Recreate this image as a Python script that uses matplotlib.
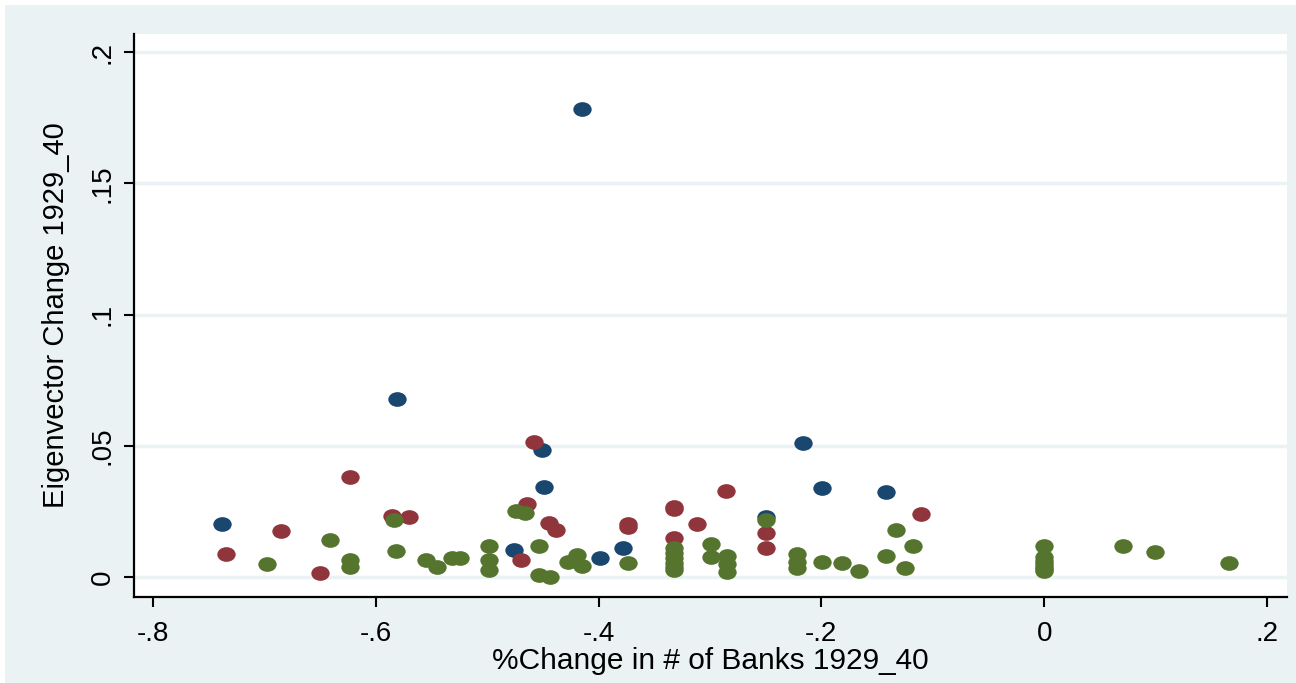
import matplotlib
matplotlib.use("Agg")
import matplotlib.pyplot as plt
from matplotlib.path import Path
from matplotlib.patches import Rectangle
import numpy as np

plt.rcParams['font.family'] = ['Liberation Sans', 'DejaVu Sans']

# ---- data ----
blue_x = [-0.738, -0.5805, -0.4146, -0.4505, -0.4487, -0.4763, -0.3984, -0.3783,
          -0.2496, -0.2163, -0.1992, -0.1423]
blue_y = [0.0202, 0.0678, 0.1785, 0.0484, 0.0344, 0.0103, 0.0074, 0.0111,
          0.0230, 0.0512, 0.0338, 0.0325]

red_x = [-0.734, -0.685, -0.650, -0.623, -0.585, -0.570, -0.4697, -0.4643, -0.4580,
         -0.4442, -0.4379, -0.3738, -0.3738, -0.3325, -0.3325, -0.3325, -0.3115,
         -0.2852, -0.2496, -0.2496, -0.1109]
red_y = [0.0088, 0.0175, 0.0014, 0.0383, 0.0233, 0.0230, 0.0065, 0.0279, 0.0513,
         0.0205, 0.0179, 0.0201, 0.0190, 0.0268, 0.0258, 0.0148, 0.0202,
         0.0328, 0.0167, 0.0109, 0.0239]

green_x = [-0.6979, -0.641, -0.623, -0.623, -0.584, -0.5817, -0.5547, -0.5446,
           -0.5317, -0.5242, -0.4987, -0.4987, -0.4987, -0.4739, -0.4658, -0.4535,
           -0.4538, -0.4433, -0.4277, -0.4193, -0.4148, -0.3738,
           -0.3325, -0.3325, -0.3325, -0.3325, -0.3325, -0.3325,
           -0.2989, -0.2989, -0.2845, -0.2845, -0.2845, -0.2496,
           -0.2217, -0.2217, -0.2217, -0.1992, -0.1818, -0.1663,
           -0.1423, -0.1330, -0.1250, -0.1178,
           0.0, 0.0, 0.0, 0.0, 0.0, 0.0, 0.0,
           0.0712, 0.0994, 0.1661]
green_y = [0.0048, 0.0141, 0.0065, 0.0039, 0.0217, 0.0100, 0.0065, 0.0039,
           0.0074, 0.0074, 0.0118, 0.0065, 0.0027, 0.0253, 0.0243, 0.0119,
           0.0008, 0.0000, 0.0058, 0.0084, 0.0042, 0.0055,
           0.0110, 0.0090, 0.0072, 0.0055, 0.0040, 0.0027,
           0.0126, 0.0075, 0.0080, 0.0048, 0.0018, 0.0217,
           0.0088, 0.0058, 0.0033, 0.0058, 0.0055, 0.0024,
           0.0081, 0.0179, 0.0033, 0.0118,
           0.0119, 0.0075, 0.0062, 0.0050, 0.0040, 0.0030, 0.0022,
           0.0119, 0.0097, 0.0055]

xticks = [-0.8, -0.6, -0.4, -0.2, 0.0, 0.2]
xticklabels = ["-.8", "-.6", "-.4", "-.2", "0", ".2"]
yticks = [0.0, 0.05, 0.1, 0.15, 0.2]
yticklabels = ["0", ".05", ".1", ".15", ".2"]

BG = "#EAF2F3"
NAVY = "#1A476F"
MAROON = "#90353B"
FOREST = "#55752F"

fig = plt.figure(figsize=(12.96, 6.83), dpi=100)
fig.patch.set_facecolor("white")
fig.patches.append(Rectangle((5/1296, 0), 1 - 5/1296, 1 - 5/683, transform=fig.transFigure,
                             facecolor=BG, edgecolor="none", zorder=-10))

ax = fig.add_axes([134/1296, 1 - 597/683, (1287 - 134)/1296, (597 - 34)/683])
ax.set_facecolor("white")

circ = Path.unit_circle()
ell = Path(circ.vertices * np.array([1.0, 0.8]), circ.codes)

for xs, ys, c in [(blue_x, blue_y, NAVY), (red_x, red_y, MAROON), (green_x, green_y, FOREST)]:
    ax.scatter(xs, ys, s=175, marker=ell, color=c, linewidths=0, zorder=3)

ax.set_xlim(-0.817, 0.218)
ax.set_ylim(-0.0076, 0.2069)

ax.set_xticks(xticks)
ax.set_xticklabels(xticklabels)
ax.set_yticks(yticks)
ax.set_yticklabels(yticklabels, rotation=90, va="center")

ax.yaxis.grid(True, color=BG, linewidth=2.5, zorder=0)
ax.xaxis.grid(False)
ax.set_axisbelow(True)

for s in ["top", "right"]:
    ax.spines[s].set_visible(False)
for s in ["left", "bottom"]:
    ax.spines[s].set_color("black")
    ax.spines[s].set_linewidth(1.6)

ax.tick_params(axis="both", direction="out", length=7, width=1.5, labelsize=20,
               colors="black")
ax.tick_params(axis="x", pad=10)
ax.tick_params(axis="y", pad=6)

ax.set_xlabel("%Change in # of Banks 1929_40", fontsize=21.5, labelpad=0)
ax.set_ylabel("Eigenvector Change 1929_40", fontsize=21, labelpad=14)

fig.savefig("out.png", dpi=100, facecolor=fig.get_facecolor())
